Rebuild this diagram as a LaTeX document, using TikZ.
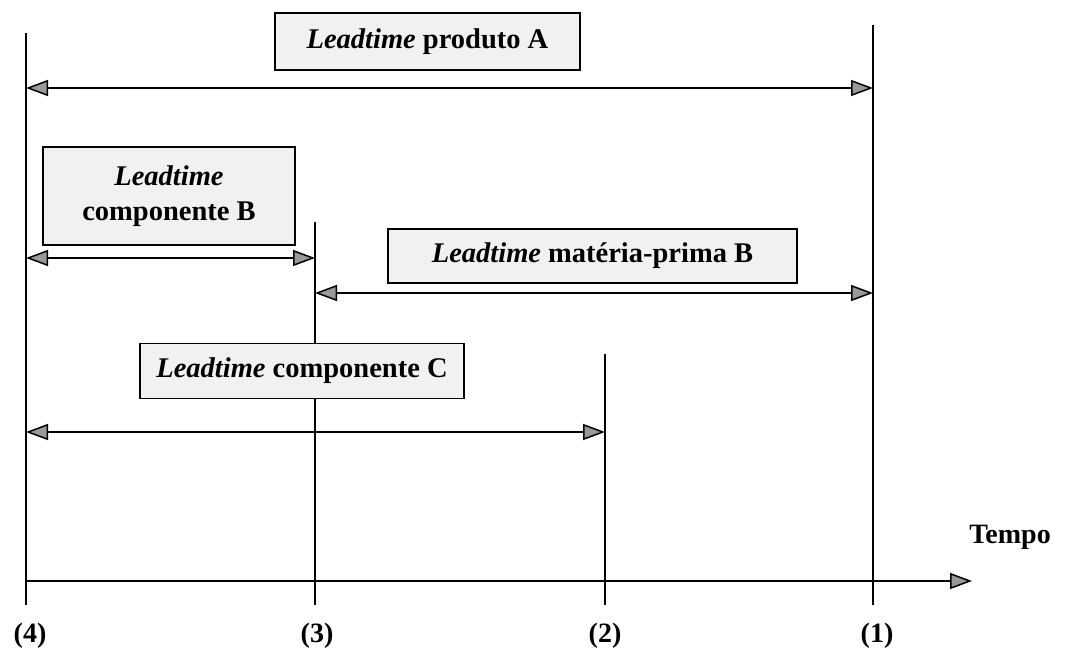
\documentclass[tikz,border=0pt]{standalone}
\usepackage{fontspec}
\setmainfont{Liberation Serif}
\usetikzlibrary{arrows.meta}
\begin{document}
\begin{tikzpicture}[x=1pt,y=-1pt,
  tip/.tip={Triangle[length=22pt,width=16pt,fill=gray!80]},
  lbox/.style={draw=black,line width=1.5pt,fill=gray!11,inner sep=0pt,
    font=\fontsize{28.5}{33}\selectfont\bfseries,align=center},
  mark line/.style={line width=1.5pt},
  span/.style={line width=1.5pt,tip-tip},
  axis/.style={line width=1.5pt,-tip},
  tick/.style={font=\fontsize{28}{32}\selectfont\bfseries}
]
\useasboundingbox (0,0) rectangle (1065,653);

% time points: vertical markers
\coordinate (t4top) at (26,33);   \coordinate (t4bot) at (26,605);
\coordinate (t3top) at (315,222); \coordinate (t3bot) at (315,605);
\coordinate (t2top) at (605,354); \coordinate (t2bot) at (605,605);
\coordinate (t1top) at (873,25);  \coordinate (t1bot) at (873,605);
\draw[mark line] (t4top) -- (t4bot);
\draw[mark line] (t3top) -- (t3bot);
\draw[mark line] (t2top) -- (t2bot);
\draw[mark line] (t1top) -- (t1bot);

% time axis
\coordinate (ax0) at (26,581);
\coordinate (ax1) at (972,581);
\draw[axis] (ax0) -- (ax1);
\node[tick] (tempo) at (1010,537) {Tempo};

% point labels
\node[tick] (l4) at (30,636) {(4)};
\node[tick] (l3) at (317,636) {(3)};
\node[tick] (l2) at (605,636) {(2)};
\node[tick] (l1) at (877,636) {(1)};

% lead time boxes
\node[lbox,minimum width=305pt,minimum height=57pt] (bA) at (427.5,41.5)
  {\textit{Leadtime} produto A};
\node[lbox,minimum width=252pt,minimum height=98pt] (bB) at (169,196)
  {\textit{Leadtime}\\[2pt] componente B};
\node[lbox,minimum width=409pt,minimum height=54pt] (bM) at (592.5,256)
  {\textit{Leadtime} matéria-prima B};
\node[lbox,minimum width=324pt,minimum height=55pt] (bC) at (302,371)
  {\textit{Leadtime} componente C};

% lead time spans
\coordinate (sA0) at (26,88);   \coordinate (sA1) at (873,88);
\coordinate (sB0) at (26,258);  \coordinate (sB1) at (315,258);
\coordinate (sM0) at (315,293); \coordinate (sM1) at (873,293);
\coordinate (sC0) at (26,432);  \coordinate (sC1) at (605,432);
\draw[span] (sA0) -- (sA1);
\draw[span] (sB0) -- (sB1);
\draw[span] (sM0) -- (sM1);
\draw[span] (sC0) -- (sC1);
\end{tikzpicture}
\end{document}
